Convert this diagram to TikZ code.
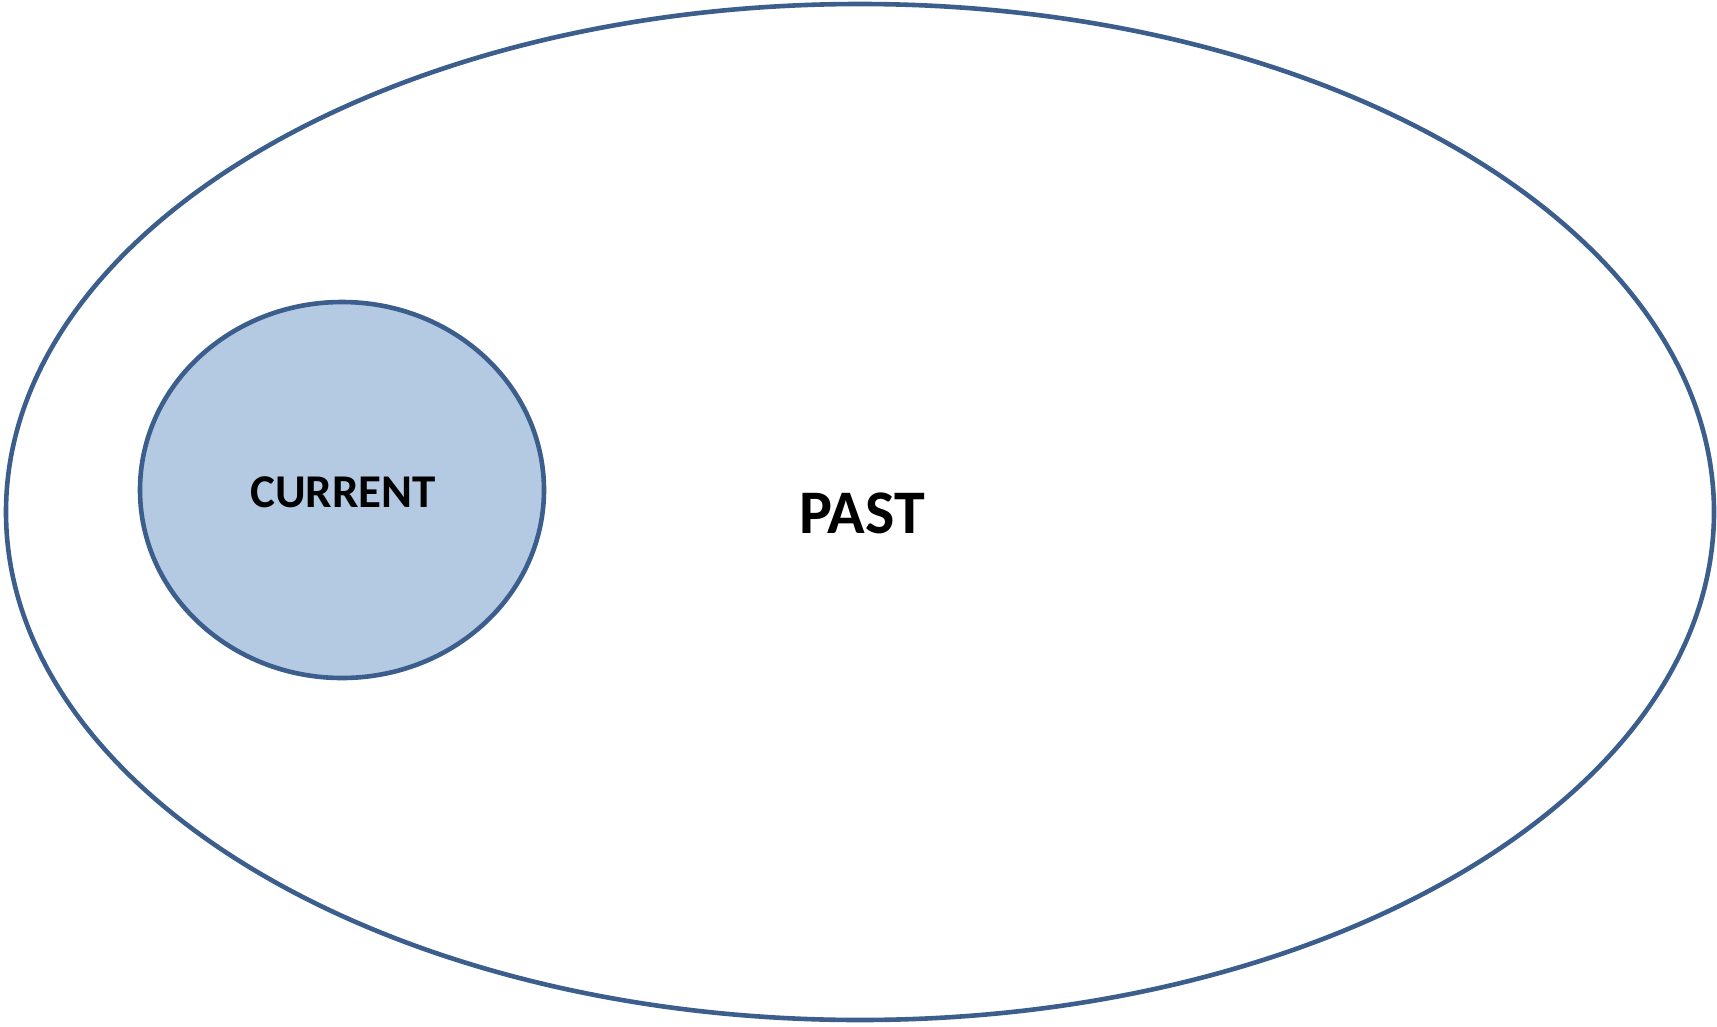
\documentclass[tikz,border=0pt]{standalone}
\usepackage{fontspec}
\setmainfont{Carlito}
\definecolor{rimblue}{HTML}{3B5E8C}
\definecolor{nowblue}{HTML}{B4CAE3}
\tikzset{
  setring/.style={draw=rimblue, line width=4.6pt},
  setlabel/.style={font=\bfseries, text=black, inner sep=0pt}
}
\begin{document}
\begin{tikzpicture}[x=1pt,y=-1pt]
  \useasboundingbox (0,0) rectangle (1717,1026);
  % outer set
  \draw[setring] (860,512) ellipse [x radius=854, y radius=508];
  % inner set
  \draw[setring, fill=nowblue] (342,490) ellipse [x radius=202, y radius=188];
  \node[setlabel, font=\fontsize{47}{50}\selectfont\bfseries] (current) at (343,492) {CURRENT};
  \node[setlabel, font=\fontsize{62}{66}\selectfont\bfseries] (past) at (862,513) {PAST};
\end{tikzpicture}
\end{document}
